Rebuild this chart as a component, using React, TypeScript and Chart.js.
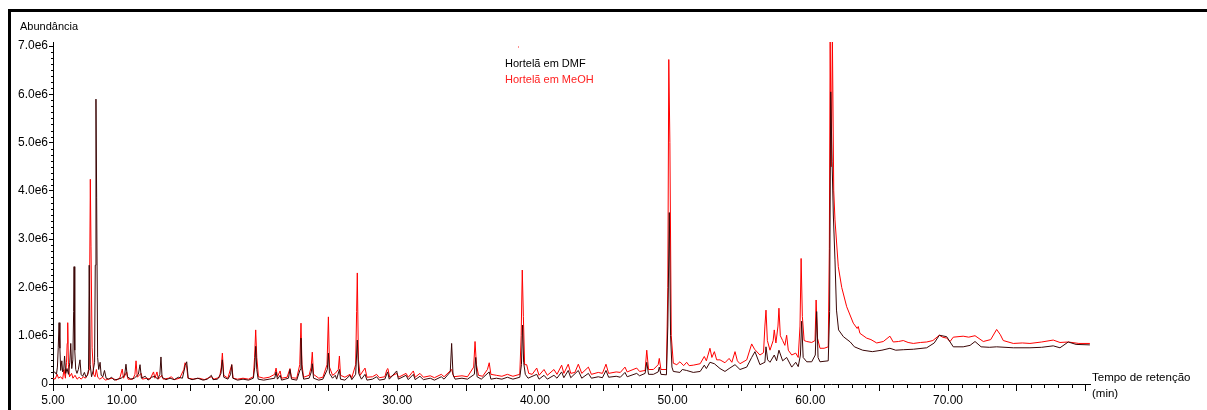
import { useEffect, useRef } from 'react';
import { Chart, registerables } from 'chart.js';

Chart.register(...registerables);

// Retention time (min) and abundance (in units of 1e6)
const seriesNames = ['Hortelã em DMF', 'Hortelã em MeOH'];

const dmfSeries: [number, number][] = [
  [5.00, 0.22], [5.12, 0.25], [5.25, 0.20], [5.32, 0.35], [5.38, 0.75], [5.44, 1.27], [5.50, 0.74],
  [5.56, 0.28], [5.64, 0.48], [5.70, 0.25], [5.78, 0.30], [5.84, 0.58], [5.92, 0.22], [6.02, 0.32],
  [6.12, 0.20], [6.22, 0.45], [6.29, 0.84], [6.36, 0.32], [6.44, 0.50], [6.50, 1.50], [6.53, 2.43],
  [6.58, 0.70], [6.65, 0.30], [6.74, 0.22], [6.84, 0.30], [6.96, 0.50], [7.04, 0.20], [7.15, 0.16],
  [7.28, 0.24], [7.40, 0.14], [7.52, 0.20], [7.58, 0.30], [7.63, 2.46], [7.70, 0.40], [7.80, 0.15],
  [7.92, 0.28], [8.02, 0.45], [8.07, 2.46], [8.12, 5.90], [8.17, 3.87], [8.24, 0.55], [8.32, 0.30],
  [8.42, 0.45], [8.50, 0.18], [8.62, 0.15], [8.74, 0.28], [8.86, 0.12], [9.05, 0.10], [9.25, 0.14],
  [9.45, 0.08], [9.70, 0.10], [9.95, 0.12], [10.20, 0.18], [10.30, 0.41], [10.40, 0.15], [10.65, 0.10],
  [10.90, 0.12], [11.20, 0.20], [11.32, 0.40], [11.42, 0.12], [11.70, 0.16], [11.90, 0.08], [12.15, 0.14],
  [12.40, 0.16], [12.60, 0.10], [12.76, 0.20], [12.84, 0.56], [12.92, 0.14], [13.20, 0.09], [13.50, 0.12],
  [13.80, 0.09], [14.10, 0.14], [14.40, 0.12], [14.60, 0.38], [14.71, 0.46], [14.82, 0.12], [15.10, 0.09],
  [15.50, 0.12], [15.90, 0.08], [16.20, 0.10], [16.50, 0.18], [16.62, 0.09], [16.95, 0.10], [17.20, 0.22],
  [17.30, 0.50], [17.40, 0.14], [17.70, 0.10], [17.90, 0.20], [17.98, 0.40], [18.06, 0.12], [18.40, 0.08],
  [18.80, 0.10], [19.20, 0.08], [19.55, 0.12], [19.65, 0.35], [19.72, 0.78], [19.80, 0.30], [19.90, 0.10],
  [20.30, 0.08], [20.70, 0.10], [21.10, 0.12], [21.20, 0.25], [21.30, 0.10], [21.50, 0.18], [21.60, 0.08],
  [22.10, 0.12], [22.21, 0.30], [22.32, 0.10], [22.70, 0.08], [22.95, 0.30], [23.01, 0.95], [23.08, 0.30],
  [23.20, 0.10], [23.60, 0.12], [23.76, 0.25], [23.83, 0.42], [23.92, 0.12], [24.30, 0.08], [24.60, 0.10],
  [24.92, 0.30], [25.00, 0.64], [25.08, 0.22], [25.30, 0.12], [25.50, 0.18], [25.60, 0.10], [25.80, 0.30],
  [25.88, 0.10], [26.20, 0.08], [26.57, 0.18], [26.70, 0.09], [26.98, 0.20], [27.10, 0.91], [27.20, 0.22],
  [27.40, 0.10], [27.66, 0.20], [27.80, 0.08], [28.20, 0.10], [28.50, 0.15], [28.70, 0.08], [29.10, 0.10],
  [29.30, 0.25], [29.42, 0.10], [29.96, 0.27], [30.08, 0.10], [30.64, 0.18], [30.80, 0.09], [31.17, 0.20],
  [31.30, 0.09], [31.65, 0.16], [31.90, 0.09], [32.40, 0.12], [32.70, 0.08], [33.20, 0.15], [33.40, 0.10],
  [33.85, 0.25], [33.95, 0.84], [34.05, 0.20], [34.20, 0.10], [34.70, 0.12], [35.10, 0.10], [35.60, 0.20],
  [35.70, 0.55], [35.80, 0.15], [36.10, 0.10], [36.68, 0.25], [36.80, 0.10], [37.20, 0.12], [37.60, 0.10],
  [38.00, 0.14], [38.40, 0.10], [38.90, 0.14], [39.02, 0.40], [39.10, 1.22], [39.18, 0.45], [39.30, 0.20],
  [39.50, 0.12], [40.13, 0.20], [40.30, 0.10], [40.66, 0.18], [40.90, 0.10], [41.38, 0.18], [41.60, 0.12],
  [41.94, 0.25], [42.10, 0.13], [42.42, 0.28], [42.60, 0.13], [43.15, 0.28], [43.40, 0.12], [43.88, 0.22],
  [44.10, 0.12], [44.60, 0.15], [44.90, 0.13], [45.16, 0.28], [45.35, 0.14], [45.90, 0.16], [46.20, 0.14],
  [46.54, 0.24], [46.70, 0.15], [47.39, 0.22], [47.60, 0.17], [48.00, 0.22], [48.12, 0.45], [48.25, 0.20],
  [48.60, 0.20], [48.95, 0.25], [49.03, 0.35], [49.15, 0.20], [49.55, 0.19], [49.65, 1.20], [49.76, 3.55],
  [49.85, 1.00], [49.95, 0.35], [50.05, 0.26], [50.53, 0.24], [50.70, 0.30], [51.02, 0.28], [51.50, 0.24],
  [52.00, 0.26], [52.30, 0.39], [52.45, 0.32], [52.71, 0.45], [53.03, 0.42], [53.44, 0.32], [53.80, 0.26],
  [54.10, 0.32], [54.53, 0.40], [54.89, 0.30], [55.38, 0.35], [55.74, 0.55], [55.98, 0.67], [56.34, 0.40],
  [56.70, 0.45], [56.78, 0.77], [56.90, 0.50], [57.07, 0.45], [57.38, 0.60], [57.55, 0.48], [57.72, 0.70],
  [57.99, 0.48], [58.28, 0.55], [58.65, 0.35], [58.94, 0.45], [59.12, 0.36], [59.28, 0.60], [59.37, 1.30],
  [59.48, 0.55], [59.74, 0.46], [60.10, 0.46], [60.36, 0.60], [60.46, 1.50], [60.56, 0.55], [60.70, 0.46],
  [61.30, 0.48], [61.40, 1.50], [61.48, 6.05], [61.58, 4.60], [61.67, 3.50], [61.79, 2.57], [61.90, 1.53],
  [62.05, 1.12], [62.40, 0.98], [62.90, 0.87], [63.20, 0.77], [63.80, 0.70], [64.50, 0.67], [65.20, 0.70],
  [65.78, 0.74], [66.20, 0.70], [66.75, 0.71], [67.48, 0.72], [68.45, 0.75], [69.00, 0.85], [69.37, 1.01],
  [69.90, 0.98], [70.38, 0.77], [71.10, 0.77], [71.60, 0.80], [71.96, 0.88], [72.40, 0.77], [73.00, 0.76],
  [73.53, 0.77], [74.74, 0.75], [75.95, 0.75], [76.80, 0.76], [77.64, 0.79], [78.13, 0.75], [78.73, 0.87],
  [79.30, 0.82], [80.30, 0.81],
];

const meohSeries: [number, number][] = [
  [5.00, 0.12], [5.15, 0.10], [5.30, 0.20], [5.40, 0.12], [5.55, 0.15], [5.70, 0.10], [5.80, 0.30],
  [5.90, 0.12], [5.98, 0.45], [6.03, 0.84], [6.07, 1.27], [6.12, 0.40], [6.20, 0.15], [6.35, 0.22],
  [6.45, 0.12], [6.60, 0.18], [6.75, 0.10], [6.90, 0.14], [7.05, 0.10], [7.20, 0.15], [7.35, 0.12],
  [7.50, 0.18], [7.62, 0.30], [7.67, 2.46], [7.71, 4.24], [7.76, 2.84], [7.84, 0.75], [7.95, 0.20],
  [8.05, 0.15], [8.15, 0.30], [8.25, 0.14], [8.40, 0.10], [8.60, 0.14], [8.80, 0.08], [9.00, 0.10],
  [9.30, 0.12], [9.60, 0.08], [9.85, 0.12], [10.03, 0.31], [10.12, 0.12], [10.35, 0.25], [10.45, 0.10],
  [10.80, 0.10], [10.95, 0.20], [11.03, 0.48], [11.12, 0.14], [11.40, 0.22], [11.50, 0.10], [11.80, 0.12],
  [12.05, 0.10], [12.30, 0.25], [12.40, 0.12], [12.55, 0.25], [12.65, 0.10], [12.90, 0.18], [13.00, 0.10],
  [13.40, 0.12], [13.60, 0.15], [13.80, 0.09], [14.20, 0.12], [14.50, 0.30], [14.59, 0.44], [14.70, 0.38],
  [14.80, 0.12], [15.20, 0.10], [15.60, 0.12], [16.00, 0.09], [16.50, 0.15], [16.70, 0.10], [17.10, 0.14],
  [17.22, 0.35], [17.30, 0.64], [17.40, 0.18], [17.70, 0.12], [17.98, 0.40], [18.08, 0.12], [18.40, 0.10],
  [18.80, 0.12], [19.20, 0.10], [19.55, 0.15], [19.64, 0.55], [19.72, 1.12], [19.80, 0.55], [19.92, 0.15],
  [20.30, 0.12], [20.70, 0.14], [21.10, 0.20], [21.20, 0.33], [21.30, 0.15], [21.49, 0.27], [21.60, 0.12],
  [22.00, 0.14], [22.21, 0.32], [22.32, 0.13], [22.70, 0.12], [22.92, 0.40], [23.01, 1.26], [23.08, 0.40],
  [23.20, 0.14], [23.60, 0.18], [23.75, 0.35], [23.83, 0.66], [23.92, 0.20], [24.30, 0.12], [24.60, 0.14],
  [24.90, 0.40], [25.00, 1.39], [25.08, 0.35], [25.30, 0.18], [25.50, 0.22], [25.72, 0.30], [25.80, 0.58],
  [25.88, 0.18], [26.20, 0.14], [26.57, 0.20], [26.70, 0.13], [26.98, 0.40], [27.05, 1.50], [27.10, 2.30],
  [27.18, 0.50], [27.30, 0.18], [27.66, 0.33], [27.80, 0.14], [28.20, 0.15], [28.50, 0.20], [28.70, 0.13],
  [29.10, 0.15], [29.25, 0.30], [29.32, 0.32], [29.45, 0.14], [29.96, 0.22], [30.10, 0.14], [30.64, 0.22],
  [30.80, 0.14], [31.17, 0.27], [31.30, 0.14], [31.65, 0.22], [31.90, 0.14], [32.40, 0.17], [32.70, 0.13],
  [33.20, 0.20], [33.40, 0.15], [33.95, 0.30], [34.10, 0.15], [34.70, 0.17], [35.10, 0.15], [35.55, 0.35],
  [35.65, 0.88], [35.75, 0.40], [35.90, 0.18], [36.20, 0.16], [36.55, 0.30], [36.68, 0.44], [36.80, 0.20],
  [37.20, 0.18], [37.60, 0.16], [38.00, 0.20], [38.40, 0.16], [38.90, 0.20], [39.00, 1.00], [39.08, 2.36],
  [39.16, 1.40], [39.25, 0.40], [39.40, 0.40], [39.55, 0.22], [39.80, 0.20], [40.13, 0.33], [40.30, 0.18],
  [40.66, 0.30], [40.90, 0.18], [41.38, 0.30], [41.60, 0.20], [41.94, 0.39], [42.10, 0.22], [42.42, 0.41],
  [42.60, 0.22], [42.90, 0.24], [43.15, 0.41], [43.40, 0.22], [43.88, 0.35], [44.10, 0.20], [44.60, 0.24],
  [44.90, 0.22], [45.16, 0.41], [45.35, 0.22], [45.90, 0.25], [46.20, 0.24], [46.54, 0.35], [46.70, 0.25],
  [47.39, 0.33], [47.60, 0.26], [48.00, 0.28], [48.12, 0.70], [48.25, 0.30], [48.60, 0.30], [48.95, 0.40],
  [49.03, 0.53], [49.15, 0.30], [49.55, 0.30], [49.65, 2.00], [49.72, 6.72], [49.80, 5.00], [49.90, 1.00],
  [50.05, 0.43], [50.30, 0.40], [50.53, 0.46], [50.80, 0.38], [51.02, 0.45], [51.20, 0.38], [51.50, 0.39],
  [52.00, 0.42], [52.30, 0.57], [52.45, 0.48], [52.71, 0.74], [52.85, 0.55], [53.03, 0.67], [53.20, 0.50],
  [53.44, 0.50], [53.80, 0.44], [54.10, 0.53], [54.30, 0.45], [54.53, 0.67], [54.70, 0.48], [54.89, 0.42],
  [55.38, 0.50], [55.74, 0.83], [55.95, 0.72], [56.34, 0.60], [56.60, 0.65], [56.70, 1.20], [56.78, 1.53],
  [56.88, 0.90], [57.07, 0.70], [57.30, 0.90], [57.38, 1.12], [57.50, 0.85], [57.65, 1.20], [57.72, 1.57],
  [57.82, 1.00], [57.99, 0.90], [58.15, 0.80], [58.28, 1.01], [58.40, 0.70], [58.65, 0.60], [58.94, 0.64],
  [59.12, 0.55], [59.25, 1.20], [59.33, 2.60], [59.42, 1.40], [59.55, 0.90], [59.74, 0.88], [60.10, 0.86],
  [60.34, 0.90], [60.42, 1.74], [60.52, 0.95], [60.70, 0.74], [61.00, 0.74], [61.30, 0.77], [61.38, 2.80],
  [61.44, 7.20], [61.52, 4.50], [61.60, 7.20], [61.70, 4.00], [61.79, 3.40], [62.03, 2.43], [62.28, 2.00],
  [62.64, 1.60], [63.12, 1.26], [63.40, 1.15], [63.48, 1.19], [63.60, 1.05], [64.09, 0.95], [64.40, 0.92],
  [64.82, 0.85], [65.30, 0.88], [65.78, 0.99], [66.02, 0.87], [66.40, 0.88], [66.75, 0.90], [67.10, 0.86],
  [67.48, 0.84], [68.00, 0.86], [68.45, 0.87], [68.90, 0.90], [69.37, 1.01], [69.60, 0.97], [69.90, 0.95],
  [70.15, 0.88], [70.38, 0.97], [71.10, 0.99], [71.50, 0.97], [71.96, 1.00], [72.56, 0.88], [73.10, 0.92],
  [73.53, 1.13], [73.80, 1.02], [74.01, 0.90], [74.74, 0.84], [75.40, 0.85], [75.95, 0.84], [76.80, 0.87],
  [77.64, 0.91], [78.13, 0.86], [78.73, 0.87], [79.50, 0.84], [80.30, 0.84],
];

// Axis ticks
const xMajorTicks = [5, 10, 15, 20, 25, 30, 35, 40, 45, 50, 55, 60, 65, 70, 75, 80];
const xLabelledTicks = [5, 10, 20, 30, 40, 50, 60, 70];
const yTicksMillions = [0, 1, 2, 3, 4, 5, 6, 7];

const FONT = '"Liberation Sans", Arial, sans-serif';

const decorPlugin = {
  id: 'decor',
  beforeDraw(chart: any) {
    const ctx = chart.ctx;
    ctx.save();
    ctx.fillStyle = '#ffffff';
    ctx.fillRect(0, 0, chart.width, chart.height);
    ctx.restore();
  },
  afterDraw(chart: any) {
    const { ctx, chartArea } = chart;
    const xs = chart.scales.x;
    const ys = chart.scales.y;
    ctx.save();
    // frame
    ctx.fillStyle = '#000';
    ctx.fillRect(8, 9, chart.width - 8, 3);
    ctx.fillRect(8, 9, 3, chart.height - 9);
    // minor ticks
    ctx.strokeStyle = '#000';
    ctx.lineWidth = 1;
    ctx.beginPath();
    for (let t = 6; t <= 80; t++) {
      if (t % 5 === 0) continue;
      const px = Math.round(xs.getPixelForValue(t)) + 0.5;
      ctx.moveTo(px, chartArea.bottom);
      ctx.lineTo(px, chartArea.bottom + 4);
    }
    for (let k = 1; k < 57; k++) {
      if (k % 8 === 0) continue;
      const py = Math.round(ys.getPixelForValue(k * 125000)) + 0.5;
      ctx.moveTo(chartArea.left - 2, py);
      ctx.lineTo(chartArea.left, py);
    }
    ctx.stroke();
    // texts
    ctx.textBaseline = 'middle';
    ctx.textAlign = 'left';
    ctx.font = `11px ${FONT}`;
    ctx.fillStyle = '#000';
    ctx.fillText('Abundância', 20, 27);
    ctx.font = `11.5px ${FONT}`;
    ctx.fillText('Tempo de retenção', 1092, 378);
    ctx.fillText('(min)', 1092, 394);
    ctx.font = `11px ${FONT}`;
    ctx.fillStyle = '#000';
    ctx.fillText(seriesNames[0], 505, 64);
    ctx.fillStyle = '#ff2020';
    ctx.fillText(seriesNames[1], 505, 80);
    ctx.fillStyle = '#ff9090';
    ctx.fillRect(518, 46, 1, 2);
    ctx.restore();
  },
};

export default function App() {
  const canvasRef = useRef<HTMLCanvasElement | null>(null);

  useEffect(() => {
    document.body.style.margin = '0';
    const canvas = canvasRef.current;
    if (!canvas) return;
    const chart = new Chart(canvas, {
      type: 'line',
      data: {
        datasets: [
          {
            label: seriesNames[0],
            data: dmfSeries.map(([t, v]) => ({ x: t, y: v * 1e6 })),
            borderColor: '#3a0606',
            borderWidth: 1,
            pointRadius: 0,
            tension: 0,
            fill: false,
          },
          {
            label: seriesNames[1],
            data: meohSeries.map(([t, v]) => ({ x: t, y: v * 1e6 })),
            borderColor: '#ff0000',
            borderWidth: 1,
            pointRadius: 0,
            tension: 0,
            fill: false,
          },
        ],
      },
      options: {
        animation: false,
        responsive: false,
        devicePixelRatio: 1,
        events: [],
        layout: { padding: { left: 0, right: 117, top: 42, bottom: 0 } },
        plugins: { legend: { display: false }, tooltip: { enabled: false }, title: { display: false } },
        scales: {
          x: {
            type: 'linear',
            min: 5,
            max: 80.31,
            afterBuildTicks: (s: any) => {
              s.ticks = xMajorTicks.map((v) => ({ value: v }));
            },
            afterFit: (s: any) => {
              s.height = 26;
            },
            ticks: {
              autoSkip: false,
              maxRotation: 0,
              padding: 2,
              color: '#000',
              font: { family: FONT, size: 12 },
              callback: (v: any) => (xLabelledTicks.includes(Number(v)) ? Number(v).toFixed(2) : ''),
            },
            grid: { display: true, drawOnChartArea: false, drawTicks: true, tickLength: 7, color: '#000' },
            border: { display: true, color: '#000', width: 1 },
          },
          y: {
            type: 'linear',
            min: 0,
            max: 7.083e6,
            afterBuildTicks: (s: any) => {
              s.ticks = yTicksMillions.map((v) => ({ value: v * 1e6 }));
            },
            afterFit: (s: any) => {
              s.width = 53;
            },
            ticks: {
              autoSkip: false,
              padding: 1,
              color: '#000',
              font: { family: FONT, size: 12 },
              callback: (v: any) => (Number(v) === 0 ? '0' : (Number(v) / 1e6).toFixed(1) + 'e6'),
            },
            grid: { display: true, drawOnChartArea: false, drawTicks: true, tickLength: 4, color: '#000' },
            border: { display: true, color: '#000', width: 1 },
          },
        },
      },
      plugins: [decorPlugin],
    } as any);
    return () => chart.destroy();
  }, []);

  return (
    <div style={{ width: 1207, height: 410, position: 'relative' }}>
      <canvas ref={canvasRef} width={1207} height={410} style={{ display: 'block' }} />
    </div>
  );
}
